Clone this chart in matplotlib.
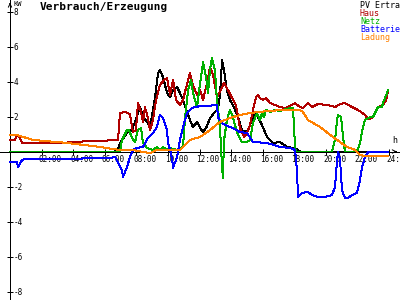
import matplotlib
matplotlib.use("Agg")
import matplotlib.pyplot as plt

# ---------------- data ----------------
series_names = ["PV Ertra", "Haus", "Netz", "Batterie", "Ladung"]
series_colors = ["#000000", "#B00000", "#00B000", "#0000FF", "#FF8000"]

pv_t = [0, 6.65, 6.84, 7.09, 7.41, 7.72, 7.91, 8.23, 8.42, 8.67, 8.86, 9.05, 9.18, 9.37, 9.49,
        9.68, 9.94, 10.13, 10.32, 10.57, 10.76, 10.95, 11.20, 11.39, 11.58, 11.84, 12.03, 12.22,
        12.41, 12.66, 12.97, 13.16, 13.29, 13.42, 13.54, 13.73, 13.92, 14.11, 14.43, 14.68, 14.87,
        15.06, 15.32, 15.51, 15.70, 15.95, 16.27, 16.65, 17.09, 17.53, 17.91, 18.23, 18.35, 23.92]
pv_v = [0, 0, 0.2, 0.66, 1.06, 1.23, 1.69, 2.54, 1.97, 1.69, 1.4, 2.37, 3.11, 4.49, 4.66,
        4.26, 3.34, 3.11, 3.51, 3.69, 3.34, 2.94, 2.26, 1.8, 1.4, 1.69, 1.34, 1.11,
        1.34, 1.91, 2.26, 2.37, 3.23, 5.23, 4.66, 3.51, 2.94, 2.66, 1.97, 1.23, 1.11,
        1.23, 1.8, 2.2, 1.97, 1.51, 0.83, 0.49, 0.54, 0.26, 0.2, 0.09, 0, 0]

haus_t = [0.00, 0.32, 0.44, 0.57, 0.76, 1.90, 3.16, 4.11, 5.06, 6.01, 6.33, 6.84, 6.96, 7.28,
          7.59, 7.78, 7.97, 8.10, 8.29, 8.42, 8.54, 8.73, 8.86, 9.05, 9.24, 9.49, 9.75, 9.94,
          10.13, 10.32, 10.51, 10.76, 10.95, 11.14, 11.39, 11.58, 11.84, 12.03, 12.22, 12.47,
          12.66, 12.85, 13.10, 13.29, 13.54, 13.80, 14.05, 14.30, 14.56, 14.81, 15.00, 15.19,
          15.38, 15.57, 15.70, 15.82, 16.01, 16.20, 16.46, 16.77, 17.09, 17.41, 17.72, 18.04,
          18.35, 18.54, 18.86, 19.11, 19.49, 20.13, 20.57, 20.89, 21.20, 21.52, 22.03, 22.47,
          22.66, 22.91, 23.10, 23.29, 23.61, 23.80, 23.92]
haus_v = [0.66, 0.66, 0.94, 0.89, 0.49, 0.49, 0.49, 0.54, 0.60, 0.60, 0.66, 0.66, 2.20, 2.26,
          2.14, 1.11, 1.23, 2.77, 2.26, 1.69, 2.54, 1.91, 1.23, 1.80, 2.94, 3.80, 4.09, 4.20,
          3.23, 4.09, 2.94, 2.66, 2.94, 3.63, 4.49, 3.80, 3.23, 3.51, 2.94, 3.91,
          4.83, 4.37, 3.11, 3.40, 3.91, 3.51, 3.06, 2.66, 1.34, 0.83, 1.06, 1.51,
          2.37, 3.11, 3.23, 3.06, 2.94, 3.06, 2.77, 2.66, 2.54, 2.49, 2.60, 2.77,
          2.54, 2.49, 2.77, 2.54, 2.71, 2.66, 2.54, 2.71, 2.77, 2.60, 2.37, 2.09,
          1.86, 1.91, 2.20, 2.54, 2.66, 2.94, 3.40]

netz_t = [0, 6.96, 7.09, 7.41, 7.53, 7.72, 7.91, 8.10, 8.29, 8.42, 8.67, 9.05, 9.30, 9.49, 9.68,
          9.94, 10.13, 10.57, 10.95, 11.08, 11.27, 11.46, 11.58, 11.84, 12.03, 12.22, 12.41,
          12.53, 12.66, 12.78, 12.97, 13.10, 13.29, 13.42, 13.48, 13.54, 13.73, 13.92, 14.11,
          14.37, 14.68, 15.00, 15.19, 15.38, 15.63, 15.82, 15.95, 16.07, 16.20, 16.46, 16.77,
          17.09, 17.72, 17.91, 18.04, 18.10, 20.38, 20.57, 20.70, 20.76, 20.95, 21.08, 21.20,
          21.96, 22.15, 22.34, 22.47, 22.78, 22.97, 23.10, 23.29, 23.54, 23.61, 23.86, 23.92]
netz_v = [0, 0, 0.66, 1.23, 1.23, 0.77, 0.54, 1.23, 1.34, 0.49, 0.2, 0.09, 0.26, 0.09, 0.26,
          0.09, 0.2, 0.09, 0.26, 1.97, 3.51, 4.09, 3.34, 2.54, 3.91, 5.10, 4.26,
          3.34, 4.66, 5.34, 4.66, 2.94, 1.4, -0.89, -1.51, 0.6, 1.8, 2.37, 1.97,
          1.06, 0.54, 0.54, 0.66, 1.63, 2.2, 1.8, 2.2, 1.97, 2.37, 2.26, 2.37,
          2.31, 2.49, 2.49, 0.26, 0, 0, 0.66, 1.8, 2.09, 1.97, 0.83, 0,
          0, 0.49, 1.4, 1.8, 1.97, 1.97, 2.2, 2.54, 2.54, 2.77, 3.34, 3.51]

batt_t = [0, 0.44, 0.51, 0.76, 0.95, 3.16, 6.01, 6.33, 6.65, 6.84, 7.09, 7.15, 7.41, 7.59, 7.78,
          8.04, 8.42, 8.73, 9.05, 9.30, 9.49, 9.68, 9.94, 10.00, 10.13, 10.25, 10.32, 10.57,
          10.76, 10.95, 11.20, 11.52, 12.03, 12.47, 13.10, 13.16, 13.42, 13.61, 14.11, 14.56,
          15.00, 15.38, 16.27, 17.09, 17.72, 18.04, 18.16, 18.23, 18.48, 18.86, 19.11, 19.49,
          19.94, 20.38, 20.57, 20.70, 20.76, 20.89, 21.01, 21.20, 21.39, 21.65, 21.96, 22.15,
          22.28, 22.47, 22.66, 23.92]
batt_v = [-0.6, -0.6, -0.89, -0.49, -0.43, -0.43, -0.37, -0.37, -0.31, -0.66, -1.06, -1.46, -0.89,
          -0.31, 0.09, 0.2, 0.26, 0.77, 1.06, 1.4, 2.09, 1.91, 1.23, 0.49, 0.09, -0.37, -0.94,
          -0.31, 0.66, 1.4, 2.2, 2.49, 2.6, 2.6, 2.66, 1.97, 1.63, 1.51, 1.34, 1.11,
          1.06, 0.54, 0.49, 0.26, 0.2, 0.09, -1.06, -2.6, -2.37, -2.31, -2.49, -2.6,
          -2.6, -2.49, -2.03, -0.49, -0.03, -0.49, -2.2, -2.66, -2.66, -2.49, -2.37, -1.63,
          -0.89, -0.31, -0.03, -0.03]

lad_t = [0, 0.44, 1.46, 3.61, 5.70, 6.52, 6.96, 7.78, 8.42, 8.86, 9.30, 10.76, 10.95, 11.39,
         12.03, 12.66, 13.29, 13.92, 14.56, 15.19, 16.27, 17.22, 18.35, 18.54, 18.86, 19.62,
         20.44, 21.33, 21.84, 22.15, 22.59, 23.92]
lad_v = [0.94, 0.94, 0.66, 0.49, 0.26, 0.14, 0.09, 0.09, -0.03, -0.09, 0.09, 0.09, 0.26, 0.66,
         0.83, 1.23, 1.69, 1.91, 2.09, 2.2, 2.31, 2.37, 2.37, 2.26, 1.8, 1.4,
         0.83, 0.26, 0.09, -0.2, -0.28, -0.28]

y_ticks = [-8, -6, -4, -2, 2, 4, 6, 8]
x_ticks = [2, 4, 6, 8, 10, 12, 14, 16, 18, 20, 22, 24]
x_tick_labels = ["02:00", "04:00", "06:00", "08:00", "10:00", "12:00",
                 "14:00", "16:00", "18:00", "20:00", "22:00", "24:00"]
title = "Verbrauch/Erzeugung"
unit_y = "KW"
unit_x = "h"

# ---------------- plot ----------------
MONO = "DejaVu Sans Mono"
LW = 0.72

fig = plt.figure(figsize=(4, 3), dpi=100)
fig.patch.set_facecolor("white")
ax = fig.add_axes([0, 0, 1, 1])
px_h = 15.8   # pixels per hour
px_kw = 17.5  # pixels per kW
ax.set_xlim(-10 / px_h, 390 / px_h)
ax.set_ylim((151.5 - 300) / px_kw, 151.5 / px_kw)
ax.axis("off")

# axes lines
ax.axhline(0, color="black", lw=LW, antialiased=False, zorder=1)
ax.axvline(0, color="black", lw=LW, antialiased=False, zorder=1)
ax.plot([0] * len(y_ticks), y_ticks, ls="none", marker="_", ms=5, mew=LW,
        color="black", antialiased=False)
ax.plot(x_ticks, [0] * len(x_ticks), ls="none", marker="|", ms=5, mew=LW,
        color="black", antialiased=False)
# arrows
ytop = 151.5 / px_kw
xright = 389.5 / px_h
ax.annotate("", xy=(0, ytop), xytext=(0, ytop - 0.4),
            arrowprops=dict(arrowstyle="->", lw=LW, color="black", mutation_scale=6))
ax.annotate("", xy=(xright, 0), xytext=(xright - 0.4, 0),
            arrowprops=dict(arrowstyle="->", lw=LW, color="black", mutation_scale=6))

for v in y_ticks:
    ax.annotate(str(v), xy=(0, v), xytext=(2.5, -0.5), textcoords="offset points",
                ha="left", va="center", fontsize=5.5, family=MONO)
for t, lab in zip(x_ticks, x_tick_labels):
    ax.annotate(lab, xy=(t, 0), xytext=(-2.2, -2.2), textcoords="offset points",
                ha="left", va="top", fontsize=5.5, family=MONO, annotation_clip=False)

ax.annotate(unit_y, xy=(0, ytop), xytext=(2.5, -0.5), textcoords="offset points",
            ha="left", va="top", fontsize=5, family=MONO)
ax.annotate(unit_x, xy=(xright, 0), xytext=(-3.5, 5), textcoords="offset points",
            ha="center", va="bottom", fontsize=6, family=MONO)

series = [(pv_t, pv_v), (haus_t, haus_v), (netz_t, netz_v), (batt_t, batt_v), (lad_t, lad_v)]
for (t, v), c in zip(series, series_colors):
    ax.plot(t, v, color=c, lw=LW, antialiased=False, zorder=3)

fig.text(40 / 400, 1 - 2 / 300, title, ha="left", va="top", fontsize=8,
         fontweight="bold", family=MONO)
for i, (name, c) in enumerate(zip(series_names, series_colors)):
    fig.text(360 / 400, 1 - (1 + 8 * i) / 300, name, ha="left", va="top",
             fontsize=6, family=MONO, color=c)

fig.savefig("out.png", dpi=100, facecolor="white")
